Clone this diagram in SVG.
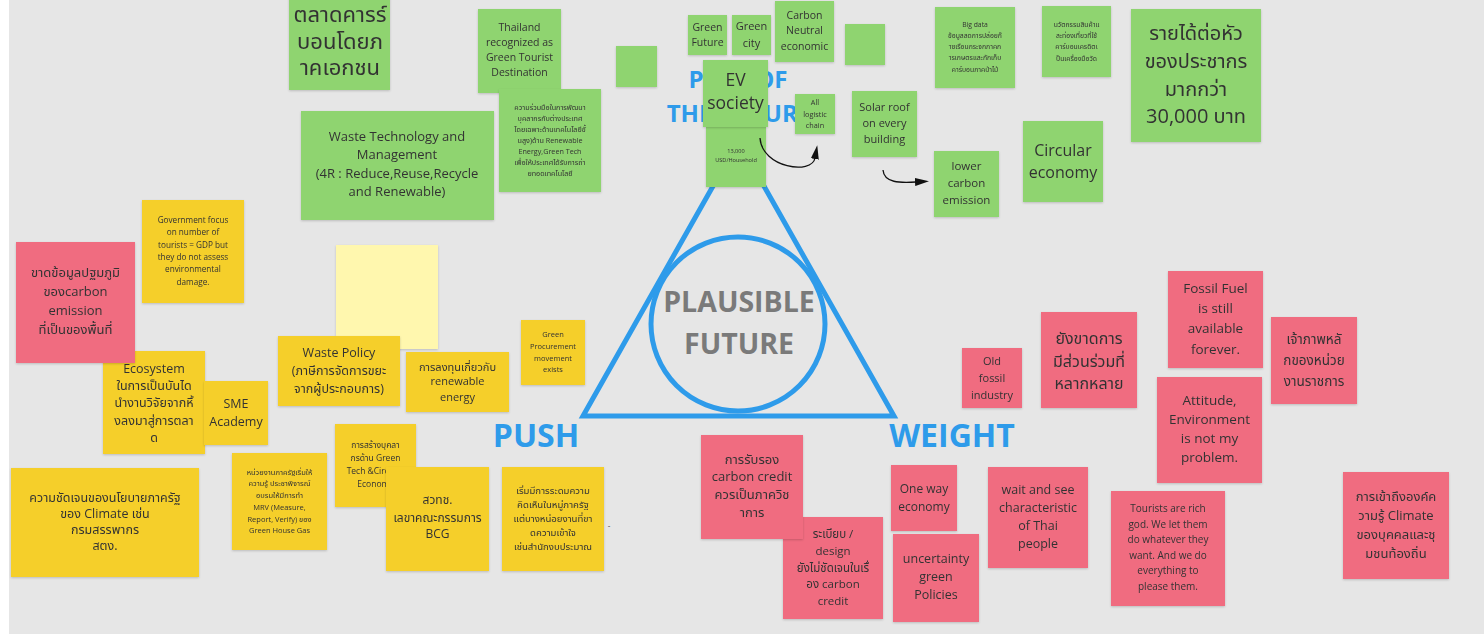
<svg xmlns="http://www.w3.org/2000/svg" width="1484" height="634" viewBox="0 0 1484 634">
<defs>
<style>
text{font-family:"Open Sans","Noto Sans","Noto Sans Thai","DejaVu Sans",sans-serif;fill:#333;text-anchor:middle}
.g{fill:#8FD470}
.y{fill:#F5CF2A}
.p{fill:#F06C80}
.ly{fill:#FFF7AE}
.n{filter:url(#sh)}
.big{font-weight:bold;fill:#2E9BEA;font-size:32px}
.fut{font-weight:bold;fill:#2E9BEA;font-size:24px}
.pl{font-weight:bold;fill:#7A7A7A;font-size:28.5px}
.con{fill:none;stroke:#111;stroke-width:1.3}
</style>
<filter id="sh" x="-10%" y="-10%" width="120%" height="125%">
<feDropShadow dx="0" dy="1" stdDeviation="1" flood-color="#000" flood-opacity="0.18"/>
</filter>
<marker id="ah" viewBox="0 0 14 8" refX="1" refY="4" markerWidth="14" markerHeight="8" orient="auto" markerUnits="userSpaceOnUse">
<path d="M0,0 L14,4 L0,8 Z" fill="#111"/>
</marker>
</defs>
<rect x="0" y="0" width="1484" height="634" fill="#E6E6E6"/>
<rect x="0" y="0" width="9" height="634" fill="#FFFFFF"/>

<g id="labels">
<text class="fut" x="738" y="88">PULL OF</text>
<text class="fut" x="739" y="122">THE FUTURE</text>
<text class="big" x="536" y="447">PUSH</text>
<text class="big" x="952" y="447">WEIGHT</text>
</g>

<g id="triangle" fill="none" stroke="#2E9BEA" stroke-width="5">
<path d="M738.5,141 L583,416 L894,416 Z" stroke-linejoin="miter"/>
<circle cx="738" cy="324" r="87"/>
</g>
<g id="center-label">
<text class="pl" x="739" y="312">PLAUSIBLE</text>
<text class="pl" x="739" y="354">FUTURE</text>
</g>

<!-- green notes -->
<g id="n-talad" class="n"><rect class="g" x="289" y="-5" width="101" height="95"/>
<text font-size="22"><tspan x="340" y="22">ตลาดคารร์</tspan><tspan x="340" y="49">บอนโดยภ</tspan><tspan x="340" y="75">าคเอกชน</tspan></text></g>

<g id="n-thailand" class="n"><rect class="g" x="478" y="9" width="83" height="84"/>
<text font-size="10.5"><tspan x="519.5" y="31">Thailand</tspan><tspan x="519.5" y="46">recognized as</tspan><tspan x="519.5" y="61">Green Tourist</tspan><tspan x="519.5" y="76">Destination</tspan></text></g>

<g id="n-coop" class="n"><rect class="g" x="499" y="89" width="102" height="103"/>
<text font-size="7.2"><tspan x="550" y="110">ความร่วมมือในการพัฒนา</tspan><tspan x="550" y="121">บุคลากรกับต่างประเทศ</tspan><tspan x="550" y="132">โดยเฉพาะด้านเทคโนโลยีขั้</tspan><tspan x="550" y="143">นสูง)ด้าน Renewable</tspan><tspan x="550" y="154">Energy,Green Tech</tspan><tspan x="550" y="165">เพื่อให้ประเทศได้รับการถ่า</tspan><tspan x="550" y="176">ยทอดเทคโนโลยี</tspan></text></g>

<g id="n-waste-tech" class="n"><rect class="g" x="301" y="111" width="193" height="109"/>
<text font-size="13"><tspan x="397" y="141">Waste Technology and</tspan><tspan x="397" y="159">Management</tspan><tspan x="397" y="178">(4R : Reduce,Reuse,Recycle</tspan><tspan x="397" y="196">and Renewable)</tspan></text></g>

<g id="n-empty1" class="n"><rect class="g" x="616" y="46" width="41" height="41"/></g>

<g id="n-green-future" class="n"><rect class="g" x="688" y="15" width="39" height="40"/>
<text font-size="10.5"><tspan x="707.5" y="31">Green</tspan><tspan x="707.5" y="46">Future</tspan></text></g>

<g id="n-green-city" class="n"><rect class="g" x="732" y="15" width="39" height="40"/>
<text font-size="11"><tspan x="751.5" y="30">Green</tspan><tspan x="751.5" y="47">city</tspan></text></g>

<g id="n-carbon-neutral" class="n"><rect class="g" x="775" y="1" width="59" height="61"/>
<text font-size="10.5"><tspan x="804.5" y="19">Carbon</tspan><tspan x="804.5" y="34">Neutral</tspan><tspan x="804.5" y="50">economic</tspan></text></g>

<g id="n-empty2" class="n"><rect class="g" x="845" y="24" width="40" height="41"/></g>

<g id="n-usd" class="n"><rect class="g" x="706" y="127" width="60" height="60"/>
<text font-size="5.6"><tspan x="736" y="153">13,000</tspan><tspan x="736" y="162">USD/Household</tspan></text></g>

<g id="n-ev" class="n"><rect class="g" x="703" y="60" width="65" height="67"/>
<text font-size="17.5"><tspan x="735.5" y="86">EV</tspan><tspan x="735.5" y="109">society</tspan></text></g>

<g id="n-logistic" class="n"><rect class="g" x="795" y="94" width="40" height="40"/>
<text font-size="7.3"><tspan x="815" y="105">All</tspan><tspan x="815" y="117">logistic</tspan><tspan x="815" y="128">chain</tspan></text></g>

<g id="n-solar" class="n"><rect class="g" x="852" y="91" width="65" height="66"/>
<text font-size="11"><tspan x="884.5" y="111">Solar roof</tspan><tspan x="884.5" y="127">on every</tspan><tspan x="884.5" y="143">building</tspan></text></g>

<g id="n-bigdata" class="n"><rect class="g" x="935" y="7" width="80" height="81"/>
<text font-size="6.8"><tspan x="975" y="27">Big data</tspan><tspan x="975" y="38">ข้อมูลลดการปล่อยก๊</tspan><tspan x="975" y="49">าซเรือนกระจกภาคก</tspan><tspan x="975" y="60">ารเกษตรและกักเก็บ</tspan><tspan x="975" y="72">คาร์บอนภาคป่าไม้</tspan></text></g>

<g id="n-innov" class="n"><rect class="g" x="1042" y="6" width="69" height="71"/>
<text font-size="6.8"><tspan x="1076.5" y="27">นวัตกรรมสินค้าแ</tspan><tspan x="1076.5" y="38">ละท่องเที่ยวที่ใช้</tspan><tspan x="1076.5" y="49">คาร์บอนเครดิตเ</tspan><tspan x="1076.5" y="61">ป็นเครื่องมือวัด</tspan></text></g>

<g id="n-income" class="n"><rect class="g" x="1131" y="9" width="130" height="133"/>
<text font-size="20"><tspan x="1196" y="40">รายได้ต่อหัว</tspan><tspan x="1196" y="68">ของประชากร</tspan><tspan x="1196" y="96">มากกว่า</tspan><tspan x="1196" y="123">30,000 บาท</tspan></text></g>

<g id="n-circular" class="n"><rect class="g" x="1023" y="121" width="80" height="81"/>
<text font-size="16"><tspan x="1063" y="156">Circular</tspan><tspan x="1063" y="178">economy</tspan></text></g>

<g id="n-lower" class="n"><rect class="g" x="934" y="151" width="65" height="66"/>
<text font-size="11.5"><tspan x="966.5" y="170">lower</tspan><tspan x="966.5" y="187">carbon</tspan><tspan x="966.5" y="204">emission</tspan></text></g>

<!-- yellow notes -->
<g id="n-gov-focus" class="n"><rect class="y" x="142" y="200" width="102" height="103"/>
<text font-size="8.2"><tspan x="193" y="223">Government focus</tspan><tspan x="193" y="235">on number of</tspan><tspan x="193" y="248">tourists = GDP but</tspan><tspan x="193" y="260">they do not assess</tspan><tspan x="193" y="272">environmental</tspan><tspan x="193" y="285">damage.</tspan></text></g>

<g id="n-ecosystem" class="n"><rect class="y" x="103" y="351" width="102" height="103"/>
<text font-size="12.5"><tspan x="154" y="373">Ecosystem</tspan><tspan x="154" y="390">ในการเป็นบันได</tspan><tspan x="154" y="407">นำงานวิจัยจากหิ้</tspan><tspan x="154" y="425">งลงมาสู่การตลา</tspan><tspan x="154" y="442">ด</tspan></text></g>

<g id="n-sme" class="n"><rect class="y" x="204" y="381" width="64" height="64"/>
<text font-size="12.5"><tspan x="236" y="408">SME</tspan><tspan x="236" y="426">Academy</tspan></text></g>

<g id="n-primary-data" class="n"><rect class="p" x="16" y="242" width="119" height="121"/>
<text font-size="13"><tspan x="75.5" y="277">ขาดข้อมูลปฐมภูมิ</tspan><tspan x="75.5" y="296">ของcarbon</tspan><tspan x="75.5" y="315">emission</tspan><tspan x="75.5" y="334">ที่เป็นของพื้นที่</tspan></text></g>

<g id="n-blank-yellow" class="n"><rect class="ly" x="336" y="245" width="102" height="104"/></g>

<g id="n-waste-policy" class="n"><rect class="y" x="278" y="336" width="122" height="70"/>
<text font-size="12.5"><tspan x="339" y="357">Waste Policy</tspan><tspan x="339" y="375">(ภาษีการจัดการขยะ</tspan><tspan x="339" y="393">จากผู้ประกอบการ)</tspan></text></g>

<g id="n-invest" class="n"><rect class="y" x="406" y="352" width="103" height="60"/>
<text font-size="11"><tspan x="457.5" y="371">การลงทุนเกี่ยวกับ</tspan><tspan x="457.5" y="385">renewable</tspan><tspan x="457.5" y="401">energy</tspan></text></g>

<g id="n-procure" class="n"><rect class="y" x="521" y="320" width="64" height="65"/>
<text font-size="7.5"><tspan x="553" y="337">Green</tspan><tspan x="553" y="349">Procurement</tspan><tspan x="553" y="361">movement</tspan><tspan x="553" y="372">exists</tspan></text></g>

<g id="n-clarity" class="n"><rect class="y" x="11" y="468" width="188" height="109"/>
<text font-size="12.5"><tspan x="105" y="502">ความชัดเจนของนโยบายภาครัฐ</tspan><tspan x="105" y="518">ของ Climate เช่น</tspan><tspan x="105" y="534">กรมสรรพากร</tspan><tspan x="105" y="550">สตง.</tspan></text></g>

<g id="n-mrv" class="n"><rect class="y" x="232" y="453" width="95" height="97"/>
<text font-size="7.5"><tspan x="279.5" y="475">หน่วยงานภาครัฐเริ่มให้</tspan><tspan x="279.5" y="486">ความรู้ ประชาพิจารณ์</tspan><tspan x="279.5" y="498">อบรมให้มีการทำ</tspan><tspan x="279.5" y="510">MRV (Measure,</tspan><tspan x="279.5" y="522">Report, Verify) ของ</tspan><tspan x="279.5" y="533">Green House Gas</tspan></text></g>

<g id="n-personnel" class="n"><rect class="y" x="335" y="424" width="81" height="83"/>
<text font-size="8.5"><tspan x="375.5" y="448">การสร้างบุคลา</tspan><tspan x="375.5" y="461">กรด้าน Green</tspan><tspan x="375.5" y="474">Tech &amp;Circular</tspan><tspan x="375.5" y="487">Economy</tspan></text></g>

<g id="n-nxpo" class="n"><rect class="y" x="386" y="467" width="103" height="104"/>
<text font-size="12"><tspan x="437.5" y="504">สวทช.</tspan><tspan x="437.5" y="522">เลขาคณะกรรมการ</tspan><tspan x="437.5" y="538">BCG</tspan></text></g>

<g id="n-brainstorm" class="n"><rect class="y" x="502" y="467" width="102" height="104"/>
<text font-size="9.6"><tspan x="553" y="494">เริ่มมีการระดมความ</tspan><tspan x="553" y="508">คิดเห็นในหมู่ภาครัฐ</tspan><tspan x="553" y="522">แต่บางหน่อยงานที่ขา</tspan><tspan x="553" y="536">ดความเข้าใจ</tspan><tspan x="553" y="550">เช่นสำนักงบประมาณ</tspan></text></g>

<text font-size="8" x="609" y="528">-</text>

<!-- pink notes -->
<g id="n-regulation" class="n"><rect class="p" x="783" y="517" width="100" height="102"/>
<text font-size="11.5"><tspan x="833" y="538">ระเบียบ /</tspan><tspan x="833" y="555">design</tspan><tspan x="833" y="572">ยังไม่ชัดเจนในเรื่</tspan><tspan x="833" y="588">อง carbon</tspan><tspan x="833" y="605">credit</tspan></text></g>

<g id="n-certify" class="n"><rect class="p" x="701" y="435" width="102" height="104"/>
<text font-size="13"><tspan x="752" y="464">การรับรอง</tspan><tspan x="752" y="481">carbon credit</tspan><tspan x="752" y="499">ควรเป็นภาควิช</tspan><tspan x="752" y="517">าการ</tspan></text></g>

<g id="n-oneway" class="n"><rect class="p" x="891" y="465" width="66" height="66"/>
<text font-size="12"><tspan x="924" y="493">One way</tspan><tspan x="924" y="511">economy</tspan></text></g>

<g id="n-uncertain" class="n"><rect class="p" x="893" y="534" width="86" height="88"/>
<text font-size="12.5"><tspan x="936" y="563">uncertainty</tspan><tspan x="936" y="581">green</tspan><tspan x="936" y="599">Policies</tspan></text></g>

<g id="n-waitsee" class="n"><rect class="p" x="988" y="467" width="100" height="101"/>
<text font-size="12.5"><tspan x="1038" y="494">wait and see</tspan><tspan x="1038" y="512">characteristic</tspan><tspan x="1038" y="530">of Thai</tspan><tspan x="1038" y="548">people</tspan></text></g>

<g id="n-oldfossil" class="n"><rect class="p" x="962" y="348" width="60" height="60"/>
<text font-size="11"><tspan x="992" y="365">Old</tspan><tspan x="992" y="382">fossil</tspan><tspan x="992" y="399">industry</tspan></text></g>

<g id="n-participation" class="n"><rect class="p" x="1041" y="312" width="96" height="96"/>
<text font-size="16"><tspan x="1089" y="344">ยังขาดการ</tspan><tspan x="1089" y="367">มีส่วนร่วมที่</tspan><tspan x="1089" y="389">หลากหลาย</tspan></text></g>

<g id="n-fossilfuel" class="n"><rect class="p" x="1168" y="271" width="95" height="97"/>
<text font-size="13.5"><tspan x="1215.5" y="293">Fossil Fuel</tspan><tspan x="1215.5" y="313">is still</tspan><tspan x="1215.5" y="333">available</tspan><tspan x="1215.5" y="354">forever.</tspan></text></g>

<g id="n-host" class="n"><rect class="p" x="1271" y="317" width="86" height="87"/>
<text font-size="13.5"><tspan x="1314" y="344">เจ้าภาพหลั</tspan><tspan x="1314" y="365">กของหน่วย</tspan><tspan x="1314" y="386">งานราชการ</tspan></text></g>

<g id="n-attitude" class="n"><rect class="p" x="1157" y="377" width="105" height="106"/>
<text font-size="13.5"><tspan x="1209.5" y="405">Attitude,</tspan><tspan x="1209.5" y="424">Environment</tspan><tspan x="1209.5" y="443">is not my</tspan><tspan x="1209.5" y="462">problem.</tspan></text></g>

<g id="n-tourists" class="n"><rect class="p" x="1111" y="491" width="114" height="115"/>
<text font-size="10"><tspan x="1168" y="512">Tourists are rich</tspan><tspan x="1168" y="528">god.  We let them</tspan><tspan x="1168" y="543">do whatever they</tspan><tspan x="1168" y="559">want.  And we do</tspan><tspan x="1168" y="574">everything to</tspan><tspan x="1168" y="590">please them.</tspan></text></g>

<g id="n-access" class="n"><rect class="p" x="1343" y="472" width="106" height="107"/>
<text font-size="13"><tspan x="1396" y="501">การเข้าถึงองค์ค</tspan><tspan x="1396" y="520">วามรู้ Climate</tspan><tspan x="1396" y="539">ของบุคคลและชุ</tspan><tspan x="1396" y="558">มชนท้องถิ่น</tspan></text></g>

<g id="connectors">
<path class="con" d="M760,138 C762,168 812,175 815,158" marker-end="url(#ah)"/>
<path class="con" d="M883,170 C884,183 900,183 916,182" marker-end="url(#ah)"/>
</g>
</svg>
